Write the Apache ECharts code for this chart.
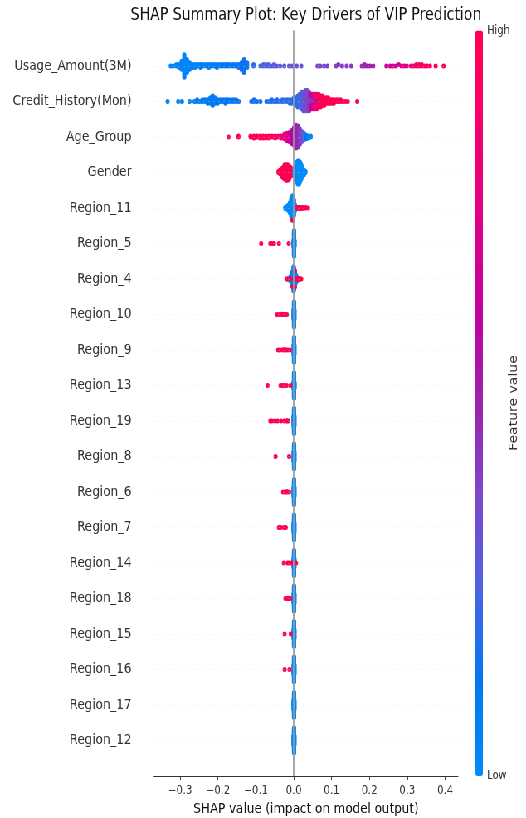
<!DOCTYPE html>
<html>
<head>
<meta charset="utf-8">
<script src="https://cdn.jsdelivr.net/npm/echarts@6/dist/echarts.min.js"></script>
<style>
  html, body { margin: 0; padding: 0; background: #fff; overflow: hidden; }
  #wrap { width: 526px; height: 818px; overflow: hidden; }
  /* the figure is laid out wide and then narrowed horizontally */
  #chart { width: 634px; height: 818px; transform: scaleX(0.8297); transform-origin: 0 0; }
</style>
</head>
<body>
<div id="wrap"><div id="chart"></div></div>
<script>
const chartTitle = 'SHAP Summary Plot: Key Drivers of VIP Prediction';
const xAxisTitle = 'SHAP value (impact on model output)';
const colorBarTitle = 'Feature value';
const colorBarHigh = 'High';
const colorBarLow = 'Low';
const xTicks = [-0.3, -0.2, -0.1, 0.0, 0.1, 0.2, 0.3, 0.4];

// features from top (most important) to bottom
const features = [
  'Usage_Amount(3M)', 'Credit_History(Mon)', 'Age_Group', 'Gender', 'Region_11',
  'Region_5', 'Region_4', 'Region_10', 'Region_9', 'Region_13', 'Region_19',
  'Region_8', 'Region_6', 'Region_7', 'Region_14', 'Region_18', 'Region_15',
  'Region_16', 'Region_17', 'Region_12'
];

// each entry: [SHAP value, feature value (0 = low .. 1 = high), number of samples]
const usageAmount = [
  [-0.325,0.03,1],[-0.318,0.04,1],[-0.310,0.02,2],[-0.303,0.05,3],[-0.296,0.03,6],[-0.289,0.04,15],
  [-0.282,0.05,9],[-0.275,0.06,5],[-0.267,0.05,3],[-0.260,0.07,3],[-0.253,0.06,2],[-0.246,0.08,3],
  [-0.239,0.07,2],[-0.231,0.09,2],[-0.224,0.08,3],[-0.217,0.10,2],[-0.210,0.09,2],[-0.203,0.11,3],
  [-0.195,0.10,2],[-0.188,0.12,2],[-0.181,0.11,2],[-0.174,0.13,2],[-0.167,0.12,2],[-0.159,0.14,2],
  [-0.152,0.13,2],[-0.145,0.15,3],[-0.138,0.14,5],[-0.131,0.16,9],[-0.123,0.15,4],
  [-0.106,0.22,2],[-0.088,0.24,1],[-0.080,0.25,2],[-0.073,0.26,2],[-0.066,0.26,2],[-0.059,0.27,1],
  [-0.052,0.28,2],[-0.045,0.29,1],[-0.036,0.30,1],[-0.025,0.30,1],[-0.012,0.31,1],[-0.004,0.32,1],
  [0.008,0.33,1],[0.020,0.34,1],
  [0.063,0.36,1],[0.070,0.37,1],[0.080,0.37,1],[0.089,0.38,1],
  [0.112,0.40,1],[0.118,0.41,1],[0.128,0.41,1],[0.140,0.42,1],[0.152,0.43,1],
  [0.180,0.47,1],[0.187,0.49,2],[0.194,0.50,1],[0.201,0.51,1],[0.210,0.52,1],
  [0.245,0.64,1],[0.255,0.66,1],[0.262,0.68,1],[0.270,0.70,1],[0.277,0.71,1],[0.285,0.73,1],
  [0.292,0.75,1],[0.299,0.77,1],
  [0.310,0.82,1],[0.317,0.84,1],[0.324,0.87,2],[0.331,0.90,2],[0.338,0.93,2],[0.345,0.95,1],
  [0.352,0.96,1],[0.360,0.98,1],[0.375,1.00,1],[0.396,1.00,1]
];
const creditHistory = [
  [-0.333,0.05,1],[-0.305,0.06,1],[-0.295,0.05,1],[-0.275,0.07,1],[-0.262,0.08,1],[-0.255,0.07,2],
  [-0.248,0.09,1],[-0.241,0.08,2],[-0.234,0.10,2],[-0.227,0.09,3],[-0.220,0.10,4],[-0.214,0.11,6],
  [-0.208,0.10,4],[-0.201,0.12,3],[-0.194,0.11,2],[-0.187,0.12,2],[-0.180,0.13,3],[-0.173,0.12,2],
  [-0.166,0.14,2],[-0.159,0.13,2],[-0.152,0.15,2],[-0.145,0.14,1],
  [-0.112,0.15,1],[-0.105,0.16,2],[-0.097,0.15,1],[-0.088,0.17,1],[-0.072,0.16,1],[-0.065,0.18,1],
  [-0.058,0.17,2],[-0.051,0.18,1],[-0.044,0.17,2],[-0.037,0.19,1],[-0.030,0.18,2],[-0.023,0.20,2],
  [-0.016,0.19,2],[-0.010,0.21,3],[-0.004,0.20,3],
  [0.001,0.15,4],[0.006,0.17,5],[0.011,0.20,7],[0.016,0.23,8],[0.021,0.27,10],[0.026,0.31,11],
  [0.031,0.35,12],[0.036,0.38,12],[0.041,0.42,11],
  [0.046,0.40,4],[0.046,0.62,5],[0.051,0.45,4],[0.051,0.72,5],[0.056,0.50,3],[0.056,0.82,6],
  [0.061,0.55,3],[0.061,0.88,6],[0.066,0.65,2],[0.066,0.93,6],
  [0.071,0.95,7],[0.076,0.97,6],[0.081,0.98,5],[0.086,1.00,4],[0.091,1.00,4],[0.096,1.00,3],
  [0.101,1.00,3],[0.106,1.00,3],[0.112,1.00,2],[0.118,1.00,2],[0.124,1.00,2],[0.130,1.00,1],
  [0.136,1.00,1],[0.143,1.00,1],[0.168,1.00,1]
];
const ageGroup = [
  [-0.172,1.00,1],[-0.146,1.00,2],[-0.114,1.00,2],[-0.105,1.00,3],[-0.097,1.00,2],[-0.089,1.00,3],
  [-0.081,1.00,3],[-0.073,0.98,3],[-0.065,0.98,3],[-0.057,0.95,2],[-0.049,0.95,3],[-0.041,0.92,2],
  [-0.033,0.88,3],[-0.025,0.82,6],[-0.018,0.76,9],[-0.011,0.68,11],[-0.005,0.62,15],[0.001,0.56,20],
  [0.006,0.52,26],[0.011,0.48,24],[0.016,0.44,18],[0.021,0.36,12],[0.027,0.25,8],[0.033,0.14,5],
  [0.039,0.06,3],[0.045,0.02,2]
];
const gender = [
  [-0.040,1,2],[-0.036,1,4],[-0.032,1,7],[-0.028,1,9],[-0.024,1,12],[-0.020,1,13],[-0.016,1,13],
  [-0.012,1,11],[-0.008,1,8],[-0.004,1,5],
  [0.002,0,6],[0.005,0,11],[0.008,0,16],[0.011,0,19],[0.014,0,19],[0.017,0,16],[0.020,0,12],
  [0.023,0,8],[0.027,0,5],[0.031,0,2]
];
const region11 = [
  [-0.022,0,3],[-0.018,0,6],[-0.014,0,12],[-0.010,0,22],[-0.006,0,40],[-0.003,0,52],[0.000,0,36],
  [0.003,0,14],[0.006,0,5],
  [-0.003,1,1],[0.010,1,2],[0.014,1,3],[0.018,1,3],[0.022,1,3],[0.027,1,2],[0.032,1,2],[0.038,1,1]
];
const region5 = [
  [0.0005,0,44],[0.0010,0,106],[0.0015,0,44],
  [-0.086,1,1],[-0.062,1,1],[-0.057,1,1],[-0.052,1,1],[-0.039,1,1],[-0.013,1,1]
];
const region4 = [
  [-0.014,0,3],[-0.010,0,8],[-0.006,0,18],[-0.003,0,34],[0.000,0,56],[0.003,0,36],[0.006,0,18],
  [0.010,0,7],[0.014,0,3],
  [-0.019,1,1],[-0.008,1,2],[-0.003,1,1],[0.003,1,2],[0.008,1,3],[0.012,1,3],[0.016,1,2],[0.020,1,1]
];
const region10 = [
  [0.0005,0,44],[0.0010,0,104],[0.0015,0,44],
  [-0.044,1,1],[-0.038,1,1],[-0.032,1,2],[-0.027,1,2],[-0.022,1,1],[-0.018,1,1]
];
const region9 = [
  [0.0005,0,44],[0.0010,0,104],[0.0015,0,44],
  [-0.041,1,1],[-0.036,1,1],[-0.028,1,2],[-0.022,1,2],[-0.016,1,1],[-0.010,1,1]
];
const region13 = [
  [0.0005,0,44],[0.0010,0,106],[0.0015,0,44],
  [-0.069,1,1],[-0.035,1,1],[-0.030,1,1],[-0.025,1,1],[-0.019,1,1],[-0.009,1,1]
];
const region19 = [
  [0.0005,0,44],[0.0010,0,103],[0.0015,0,44],
  [-0.062,1,1],[-0.058,1,1],[-0.050,1,1],[-0.043,1,1],[-0.034,1,1],[-0.025,1,1],[-0.018,1,2],
  [-0.014,1,1]
];
const region8 = [
  [0.0005,0,45],[0.0010,0,108],[0.0015,0,45],
  [-0.048,1,1],[-0.012,1,1]
];
const region6 = [
  [0.0005,0,44],[0.0010,0,107],[0.0015,0,44],
  [-0.028,1,1],[-0.022,1,1],[-0.018,1,2],[-0.012,1,1]
];
const region7 = [
  [0.0005,0,44],[0.0010,0,108],[0.0015,0,44],
  [-0.039,1,1],[-0.035,1,1],[-0.026,1,1],[-0.021,1,1]
];
const region14 = [
  [0.0005,0,44],[0.0010,0,107],[0.0015,0,44],
  [-0.026,1,1],[-0.016,1,1],[-0.012,1,1],[-0.006,1,1],[0.006,1,1]
];
const region18 = [
  [0.0005,0,44],[0.0010,0,107],[0.0015,0,44],
  [-0.022,1,1],[-0.018,1,1],[-0.014,1,2],[-0.009,1,1]
];
const region15 = [
  [0.0005,0,45],[0.0010,0,108],[0.0015,0,45],
  [-0.024,1,1],[-0.008,1,1]
];
const region16 = [
  [0.0005,0,45],[0.0010,0,108],[0.0015,0,45],
  [-0.024,1,1],[-0.011,1,1]
];
const region17 = [
  [0.0005,0,46],[0.0010,0,108],[0.0015,0,46]
];
const region12 = [
  [0.0005,0,46],[0.0010,0,108],[0.0015,0,46]
];

const rows = [
  usageAmount, creditHistory, ageGroup, gender, region11, region5, region4, region10, region9,
  region13, region19, region8, region6, region7, region14, region18, region15, region16,
  region17, region12
];

// red-blue feature colour scale (low -> high)
const featureColors = ['#008bfb', '#0078f3', '#4b63e3', '#7d49cb', '#9b23ad', '#c2009c', '#e00086', '#f5006d', '#ff0051'];

const FONT = '"DejaVu Sans", "Liberation Sans", sans-serif';

// Beeswarm layout: quantize SHAP values into bins and stack
// the samples of each bin alternately above and below the row.
function swarm(groups) {
  const pts = [];
  groups.forEach(g => { for (let k = 0; k < g[2]; k++) pts.push({ s: g[0], f: g[1] }); });
  let lo = Infinity, hi = -Infinity;
  pts.forEach(p => { lo = Math.min(lo, p.s); hi = Math.max(hi, p.s); });
  const nbins = 100;
  pts.forEach((p, i) => { p.q = Math.round(nbins * (p.s - lo) / (hi - lo + 1e-8)); p.i = i; });
  const order = pts.slice().sort((a, b) => (a.q - b.q) || (a.i - b.i));
  let layer = 0, last = -1;
  order.forEach(p => {
    if (p.q !== last) layer = 0;
    p.y = Math.ceil(layer / 2) * ((layer % 2) * 2 - 1);
    layer += 1;
    last = p.q;
  });
  let maxY = 0;
  pts.forEach(p => { maxY = Math.max(maxY, p.y); });
  const rowHeight = 0.4;
  const k = 0.9 * rowHeight / (maxY + 1);
  pts.forEach(p => { p.y *= k; });
  return pts;
}

const points = [];
rows.forEach((groups, r) => {
  const pos = features.length - 1 - r;
  swarm(groups).forEach(p => points.push([p.s, pos + p.y, p.f]));
});

const rowGuides = features.map((_, i) => ({
  yAxis: i,
  lineStyle: { color: '#dcdcdc', width: 0.6, type: [1, 5] }
}));

const fmtTick = v => (v < -1e-9 ? '\u2212' : '') + Math.abs(v).toFixed(1);

const chart = echarts.init(document.getElementById('chart'), null, { renderer: 'canvas' });
chart.setOption({
  animation: false,
  backgroundColor: '#ffffff',
  grid: { left: 185.6, right: 82, top: 30.5, bottom: 42, containLabel: false, outerBoundsMode: 'none' },
  xAxis: {
    type: 'value',
    min: -0.369,
    max: 0.434,
    splitLine: { show: false },
    axisLine: { show: true, onZero: false, lineStyle: { color: '#333333', width: 1 } },
    axisTick: { show: true, customValues: xTicks, length: 4, lineStyle: { color: '#333333', width: 0.9 } },
    axisLabel: { customValues: xTicks, formatter: fmtTick, fontFamily: FONT, fontSize: 12, color: '#333333', margin: 9 },
    name: xAxisTitle,
    nameLocation: 'middle',
    nameGap: 26,
    nameTextStyle: { fontFamily: FONT, fontSize: 14.4, color: '#111111' }
  },
  yAxis: {
    type: 'value',
    min: -1,
    max: features.length,
    interval: 1,
    axisLine: { show: false },
    axisTick: { show: false },
    splitLine: { show: false },
    axisLabel: {
      formatter: v => (v >= 0 && v < features.length) ? features[features.length - 1 - v] : '',
      fontFamily: FONT, fontSize: 14.4, color: '#333333', margin: 27
    }
  },
  visualMap: {
    type: 'continuous',
    min: 0,
    max: 1,
    dimension: 2,
    seriesIndex: 1,
    show: true,
    calculable: false,
    hoverLink: false,
    orient: 'vertical',
    left: 573,
    top: 30.5,
    padding: 0,
    itemWidth: 9,
    itemHeight: 745.5,
    inRange: { color: featureColors }
  },
  graphic: [
    { type: 'text', x: 368.8, y: 16, silent: true,
      style: { text: chartTitle, fill: '#111111', fontFamily: FONT, fontSize: 17, align: 'center', verticalAlign: 'middle', textAlign: 'center', textVerticalAlign: 'middle' } },
    { type: 'text', x: 587, y: 30.5, silent: true,
      style: { text: colorBarHigh, fill: '#333333', fontFamily: FONT, fontSize: 12, align: 'left', verticalAlign: 'middle', textAlign: 'left', textVerticalAlign: 'middle' } },
    { type: 'text', x: 587, y: 776, silent: true,
      style: { text: colorBarLow, fill: '#333333', fontFamily: FONT, fontSize: 12, align: 'left', verticalAlign: 'middle', textAlign: 'left', textVerticalAlign: 'middle' } },
    { type: 'text', x: 619.5, y: 403, rotation: Math.PI / 2, silent: true,
      style: { text: colorBarTitle, fill: '#333333', fontFamily: FONT, fontSize: 14, align: 'center', verticalAlign: 'middle', textAlign: 'center', textVerticalAlign: 'middle' } }
  ],
  series: [
    {
      type: 'line',
      data: [],
      silent: true,
      z: 1,
      markLine: {
        silent: true,
        z: 1,
        symbol: 'none',
        animation: false,
        label: { show: false },
        emphasis: { disabled: true },
        data: rowGuides.concat([{ xAxis: 0, lineStyle: { color: '#999999', width: 1.7, type: 'solid' } }])
      }
    },
    {
      type: 'scatter',
      data: points,
      symbol: 'circle',
      symbolSize: 5,
      z: 3,
      silent: true,
      itemStyle: { opacity: 1 },
      emphasis: { disabled: true }
    }
  ]
});
</script>
</body>
</html>
